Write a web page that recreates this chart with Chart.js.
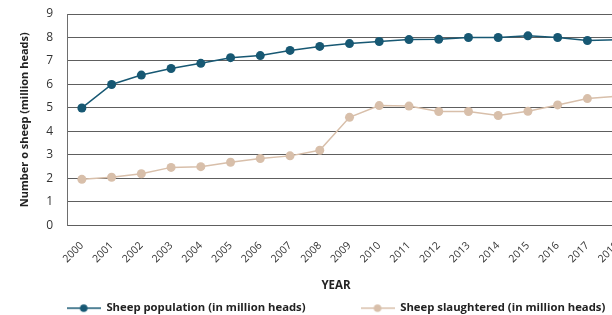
<!DOCTYPE html>
<html>
<head>
<meta charset="utf-8">
<script src="https://cdn.jsdelivr.net/npm/chart.js@4/dist/chart.umd.min.js"></script>
<style>
  html, body { margin: 0; padding: 0; overflow: hidden; background: #fff; width: 612px; height: 315px; }
  #wrap { width: 672px; height: 315px; }
</style>
</head>
<body>
<div id="wrap"><canvas id="c" width="672" height="315"></canvas></div>
<script>
const years = ['2000','2001','2002','2003','2004','2005','2006','2007','2008','2009','2010','2011','2012','2013','2014','2015','2016','2017','2018'];
const population = [5.0, 6.0, 6.4, 6.68, 6.9, 7.14, 7.23, 7.45, 7.62, 7.74, 7.83, 7.91, 7.92, 8.0, 8.0, 8.07, 8.0, 7.87, 7.9];
const slaughtered = [1.96, 2.05, 2.2, 2.47, 2.5, 2.69, 2.85, 2.96, 3.2, 4.6, 5.1, 5.08, 4.85, 4.85, 4.68, 4.86, 5.13, 5.4, 5.5];
const seriesNames = ['Sheep population (in million heads)', 'Sheep slaughtered (in million heads)'];
const yTicks = [0, 1, 2, 3, 4, 5, 6, 7, 8, 9];

const colPop = '#175873';
const colSl = '#d8bfaa';
const FONT = '"Open Sans", "Noto Sans", sans-serif';

function legendSymbol(color) {
  const c = document.createElement('canvas');
  c.width = 34; c.height = 10;
  const g = c.getContext('2d');
  g.strokeStyle = color; g.lineWidth = 1.5;
  g.beginPath(); g.moveTo(0, 5); g.lineTo(34, 5); g.stroke();
  g.fillStyle = color;
  g.beginPath(); g.arc(17, 5, 3.8, 0, Math.PI * 2); g.fill();
  return c;
}
const symbols = [legendSymbol(colPop), legendSymbol(colSl)];

const legendShift = {
  id: 'legendShift',
  afterLayout(chart) {
    const lg = chart.legend;
    if (!lg) return;
    const p = lg.options.labels.padding;
    lg.top = 302.5 - p;
  }
};

new Chart(document.getElementById('c'), {
  type: 'line',
  data: {
    labels: years,
    datasets: [
      { label: seriesNames[0], data: population, borderColor: colPop, backgroundColor: colPop,
        borderWidth: 1.5, pointRadius: 4.5, pointBorderWidth: 0, pointBackgroundColor: colPop, tension: 0 },
      { label: seriesNames[1], data: slaughtered, borderColor: colSl, backgroundColor: colSl,
        borderWidth: 1.5, pointRadius: 4.5, pointBorderWidth: 0, pointBackgroundColor: colSl, tension: 0 }
    ]
  },
  options: {
    responsive: false,
    animation: false,
    devicePixelRatio: 1,
    layout: { padding: { top: 14, left: 0, right: 0, bottom: 0 } },
    scales: {
      x: {
        offset: true,
        grid: { display: false, drawTicks: false },
        border: { display: false },
        ticks: { minRotation: 45, maxRotation: 45, padding: 14, color: '#333', font: { family: FONT, size: 10.5 } },
        afterFit(s) { s.height = 44; }
      },
      y: {
        min: 0, max: 9,
        afterBuildTicks(s) { s.ticks = yTicks.map(v => ({ value: v })); },
        grid: { color: '#5e5e5e', lineWidth: 1, drawTicks: true, tickLength: 14, tickColor: 'rgba(0,0,0,0)' },
        border: { display: true, color: '#6e6e6e', width: 1 },
        ticks: { padding: 0, color: '#333', font: { family: FONT, size: 12 } },
        title: { display: true, text: 'Number o sheep (million heads)', color: '#222',
                 font: { family: FONT, size: 11, weight: 'bold' }, padding: { top: 18, bottom: 0 } },
        afterFit(s) { s.width = 67; }
      },
      spacer: {
        position: 'right',
        grid: { display: false, drawTicks: false },
        border: { display: false },
        ticks: { display: false },
        afterFit(s) { s.width = 40; }
      }
    },
    plugins: {
      title: { display: true, position: 'bottom', text: 'YEAR', color: '#222', weight: 500,
               font: { family: FONT, size: 11.5, weight: 'bold' }, padding: { top: 9.8, bottom: 0 } },
      legend: {
        position: 'bottom', weight: 1000, maxHeight: 22,
        labels: {
          usePointStyle: true, pointStyleWidth: 34, boxHeight: 10, padding: 55, color: '#222',
          font: { family: FONT, size: 11.3, weight: 'bold' },
          generateLabels(chart) {
            const items = Chart.defaults.plugins.legend.labels.generateLabels(chart);
            items.forEach((it, i) => { it.pointStyle = symbols[i]; });
            return items;
          }
        }
      },
      tooltip: { enabled: false }
    }
  },
  plugins: [legendShift]
});
</script>
</body>
</html>
